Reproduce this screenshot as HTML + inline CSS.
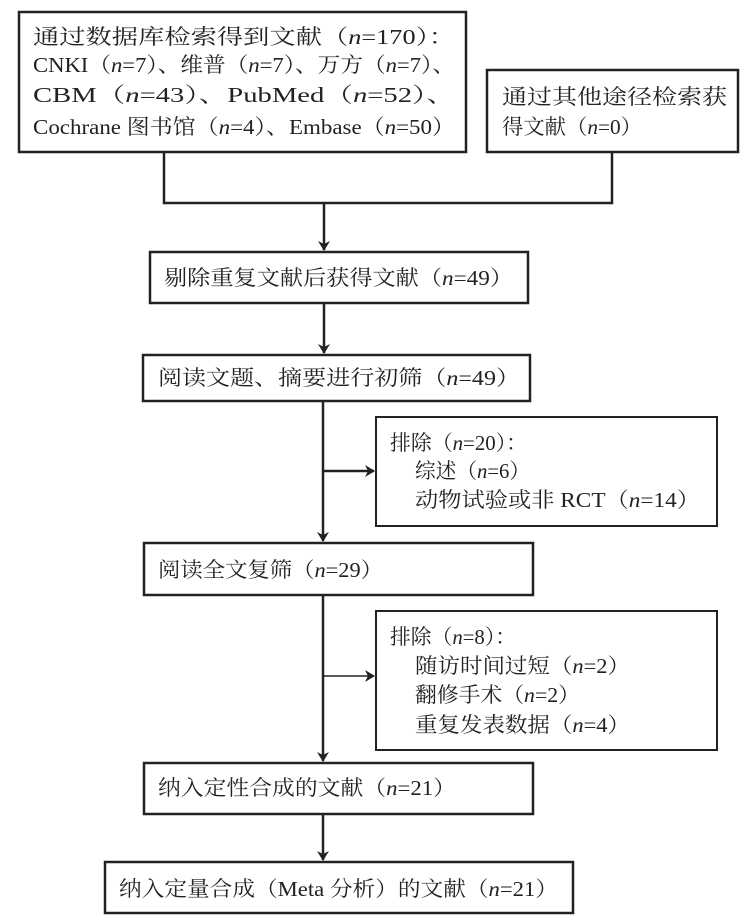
<!DOCTYPE html>
<html><head><meta charset="utf-8"><style>
html,body{margin:0;padding:0;background:#fff;}
svg{display:block;}
text{font-family:"Liberation Serif","Noto Serif CJK SC",serif;font-size:21px;fill:#222;dominant-baseline:central;}
.i{font-style:italic;}
</style></head><body>
<svg width="750" height="922" viewBox="0 0 750 922" xmlns="http://www.w3.org/2000/svg">
<defs><marker id="a" markerWidth="10" markerHeight="12" refX="9" refY="6" orient="auto" markerUnits="userSpaceOnUse"><path d="M0,0 L10,6 L0,12 L3,6 Z" fill="#222"/></marker></defs>
<g fill="none" stroke="#222" stroke-width="2.5">
<rect x="19" y="12" width="447" height="140"/>
<rect x="487" y="70" width="251" height="82"/>
<polyline points="164,152 164,203 612,203 612,152"/>
<line x1="324" y1="203" x2="324" y2="250" marker-end="url(#a)"/>
<rect x="150" y="252" width="378" height="51"/>
<line x1="324" y1="303" x2="324" y2="353" marker-end="url(#a)"/>
<rect x="143" y="355" width="387" height="46"/>
<line x1="323" y1="401" x2="323" y2="541" marker-end="url(#a)"/>
<line x1="323" y1="471" x2="374" y2="471" marker-end="url(#a)"/>
<rect x="376" y="417" width="341" height="109" stroke-width="2"/>
<rect x="144" y="543" width="389" height="52"/>
<line x1="323" y1="595" x2="323" y2="761" marker-end="url(#a)"/>
<line x1="323" y1="676" x2="374" y2="676" stroke-width="1.5" marker-end="url(#a)"/>
<rect x="376" y="611" width="341" height="139" stroke-width="2"/>
<rect x="144" y="763" width="389" height="51"/>
<line x1="323" y1="814" x2="323" y2="860" marker-end="url(#a)"/>
<rect x="105" y="862" width="468" height="51"/>
</g>
<text x="33" y="37" textLength="422" lengthAdjust="spacingAndGlyphs">通过数据库检索得到文献（<tspan class="i">n</tspan>=170）：</text>
<text x="33" y="65" textLength="422" lengthAdjust="spacingAndGlyphs">CNKI（<tspan class="i">n</tspan>=7）、维普（<tspan class="i">n</tspan>=7）、万方（<tspan class="i">n</tspan>=7）、</text>
<text x="33" y="95" textLength="422" lengthAdjust="spacingAndGlyphs">CBM（<tspan class="i">n</tspan>=43）、PubMed（<tspan class="i">n</tspan>=52）、</text>
<text x="33" y="127" textLength="422" lengthAdjust="spacingAndGlyphs">Cochrane 图书馆（<tspan class="i">n</tspan>=4）、Embase（<tspan class="i">n</tspan>=50）</text>
<text x="502" y="97" textLength="225" lengthAdjust="spacingAndGlyphs">通过其他途径检索获</text>
<text x="502" y="127" textLength="140" lengthAdjust="spacingAndGlyphs">得文献（<tspan class="i">n</tspan>=0）</text>
<text x="164" y="278" textLength="349" lengthAdjust="spacingAndGlyphs">剔除重复文献后获得文献（<tspan class="i">n</tspan>=49）</text>
<text x="158" y="378" textLength="362" lengthAdjust="spacingAndGlyphs">阅读文题、摘要进行初筛（<tspan class="i">n</tspan>=49）</text>
<text x="390" y="443" textLength="137" lengthAdjust="spacingAndGlyphs">排除（<tspan class="i">n</tspan>=20）：</text>
<text x="415" y="471" textLength="115" lengthAdjust="spacingAndGlyphs">综述（<tspan class="i">n</tspan>=6）</text>
<text x="415" y="500" textLength="285" lengthAdjust="spacingAndGlyphs">动物试验或非 RCT（<tspan class="i">n</tspan>=14）</text>
<text x="158" y="570" textLength="225" lengthAdjust="spacingAndGlyphs">阅读全文复筛（<tspan class="i">n</tspan>=29）</text>
<text x="390" y="637" textLength="126" lengthAdjust="spacingAndGlyphs">排除（<tspan class="i">n</tspan>=8）：</text>
<text x="415" y="666" textLength="215" lengthAdjust="spacingAndGlyphs">随访时间过短（<tspan class="i">n</tspan>=2）</text>
<text x="415" y="695" textLength="165" lengthAdjust="spacingAndGlyphs">翻修手术（<tspan class="i">n</tspan>=2）</text>
<text x="415" y="725" textLength="215" lengthAdjust="spacingAndGlyphs">重复发表数据（<tspan class="i">n</tspan>=4）</text>
<text x="158" y="788" textLength="298" lengthAdjust="spacingAndGlyphs">纳入定性合成的文献（<tspan class="i">n</tspan>=21）</text>
<text x="119" y="889" textLength="439" lengthAdjust="spacingAndGlyphs">纳入定量合成（Meta 分析）的文献（<tspan class="i">n</tspan>=21）</text>
</svg>
</body></html>
